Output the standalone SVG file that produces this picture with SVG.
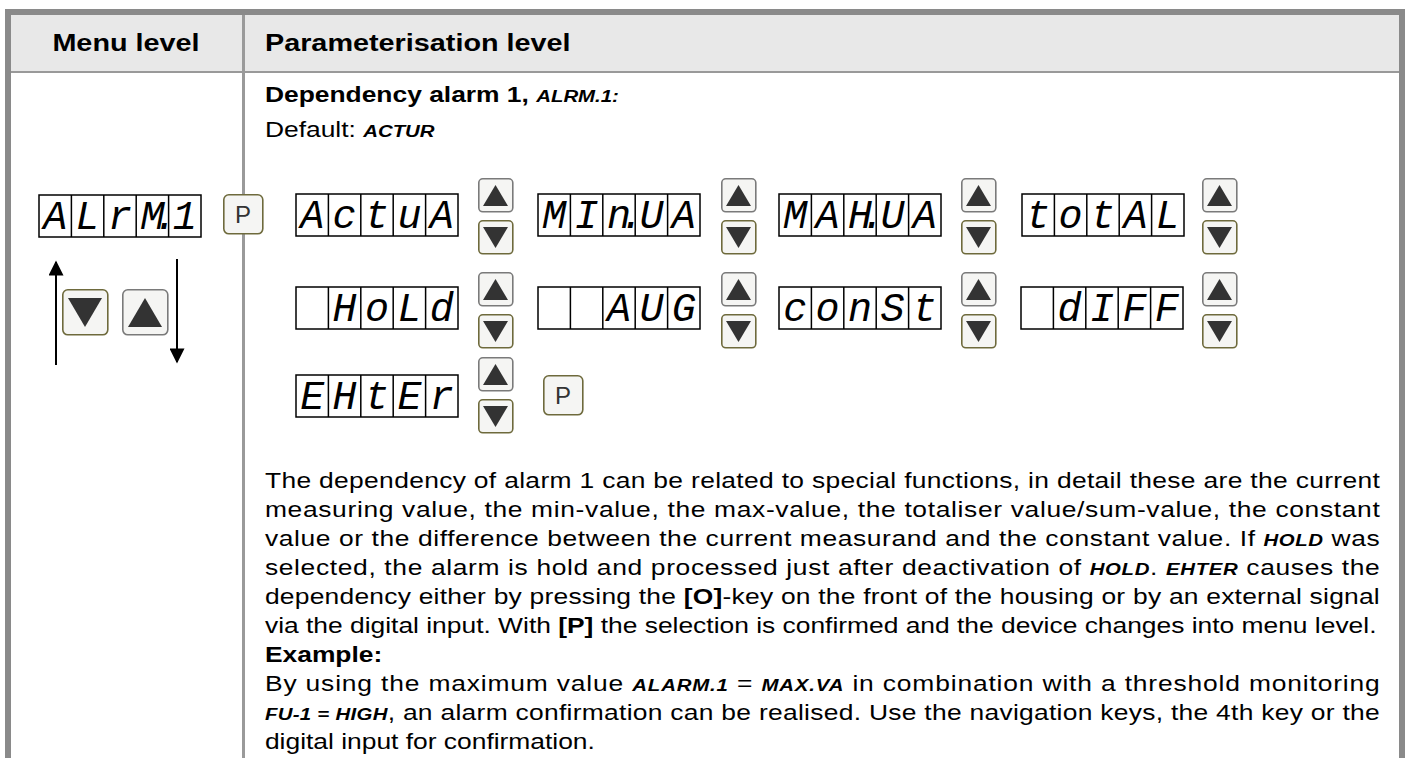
<svg xmlns="http://www.w3.org/2000/svg" xmlns:xlink="http://www.w3.org/1999/xlink" width="1406" height="758" viewBox="0 0 1406 758">
<style>
.hdr{font-family:"Liberation Sans",Arial,sans-serif;font-weight:bold;font-size:24px;fill:#000}
.t{font-family:"Liberation Sans",Arial,sans-serif;font-size:22px;fill:#000}
.b{font-weight:bold}
.d{font-family:"Liberation Sans Narrow","Liberation Sans",Arial,sans-serif;font-weight:bold;font-style:italic;font-size:17px}
.lcd{fill:#fff;stroke:#000;stroke-width:1.5}
.seg{font-family:"Liberation Mono","DejaVu Sans Mono",monospace;font-style:italic;font-size:40px;text-anchor:middle;fill:#000}
.segd{font-family:"Liberation Mono","DejaVu Sans Mono",monospace;font-style:italic;font-size:40px;letter-spacing:-11px;fill:#000}
.btn{fill:#f5f5f3;stroke-width:1.6}
.up{stroke:#7a7a7a}
.dn{stroke:#6e6a3c}
.tri{fill:#333}
.pk{font-family:"Liberation Sans",Arial,sans-serif;font-size:24px;fill:#333;text-anchor:middle}
.con{stroke:#000;stroke-width:2;fill:none}
</style>
<defs>
<g id="cells">
<rect x="0" y="0" width="162" height="42" class="lcd"/>
<path d="M32.4 0V42M64.8 0V42M97.2 0V42M129.6 0V42" stroke="#000" stroke-width="1.5"/>
</g>
<g id="bup"><rect x="0.8" y="0.8" width="34" height="33" rx="4" class="btn up"/><path d="M17.5 7L30 28H5Z" class="tri"/></g>
<g id="bdn"><rect x="0.8" y="0.8" width="34" height="33" rx="4" class="btn dn"/><path d="M5 7H30L17.5 28Z" class="tri"/></g>
<g id="pkey"><rect x="0.8" y="0.8" width="39" height="39" rx="5" class="btn dn"/><text x="20" y="29" class="pk">P</text></g>
<marker id="ah" viewBox="0 0 10 10" refX="9" refY="5" markerWidth="16" markerHeight="15" markerUnits="userSpaceOnUse" orient="auto"><path d="M0 0L10 5L0 10Z" fill="#000"/></marker>
</defs>

<g id="frame">
<rect x="11" y="15" width="1388" height="56" fill="#e8e8e8"/>
<rect x="5" y="9" width="1400" height="6" fill="#8a8a8a"/>
<rect x="5" y="9" width="6" height="749" fill="#8a8a8a"/>
<rect x="1399" y="9" width="6" height="749" fill="#8a8a8a"/>
<rect x="11" y="71" width="1388" height="2" fill="#999"/>
<rect x="242" y="15" width="3" height="743" fill="#9a9a9a"/>
</g>

<g id="headers" transform="scale(1.2,1)">
<text x="105" y="51" class="hdr" text-anchor="middle">Menu level</text>
<text x="220.8" y="51" class="hdr">Parameterisation level</text>
</g>

<g id="menu-display" transform="translate(39,195)">
<use xlink:href="#cells"/>
<text class="seg" x="16.2" y="34">A</text><text class="seg" x="48.6" y="34">L</text><text class="seg" x="81" y="34">r</text><text class="segd" x="101.4" y="34">M.</text><text class="seg" x="145.8" y="34">1</text>
</g>
<g id="menu-p" transform="translate(223,194)"><use xlink:href="#pkey"/></g>
<g id="menu-down" transform="translate(62,289)"><rect x="0.8" y="0.8" width="45" height="45" rx="5" class="btn dn"/><path d="M6 9H40L23 38Z" class="tri"/></g>
<g id="menu-up" transform="translate(122,289)"><rect x="0.8" y="0.8" width="45" height="45" rx="5" class="btn up"/><path d="M23 9L40 38H6Z" class="tri"/></g>

<g id="connectors">
<path d="M56 365V262" class="con" marker-end="url(#ah)"/>
<path d="M177 259V362" class="con" marker-end="url(#ah)"/>
</g>

<g id="texts-top" transform="scale(1.2,1)">
<text x="220.8" y="102" class="t b">Dependency alarm 1, <tspan class="d">ALRM.1:</tspan></text>
<text x="220.8" y="137" class="t">Default: <tspan class="d">ACTUR</tspan></text>
</g>

<g id="actua" transform="translate(296,194)"><use xlink:href="#cells"/>
<text class="seg" x="16.2" y="34">A</text><text class="seg" x="48.6" y="34">c</text><text class="seg" x="81" y="34">t</text><text class="seg" x="113.4" y="34">u</text><text class="seg" x="145.8" y="34">A</text></g>
<g id="minua" transform="translate(538,194)"><use xlink:href="#cells"/>
<text class="seg" x="16.2" y="34">M</text><text class="seg" x="48.6" y="34">I</text><text class="segd" x="69" y="34">n.</text><text class="seg" x="113.4" y="34">U</text><text class="seg" x="145.8" y="34">A</text></g>
<g id="mahua" transform="translate(779,194)"><use xlink:href="#cells"/>
<text class="seg" x="16.2" y="34">M</text><text class="seg" x="48.6" y="34">A</text><text class="segd" x="69" y="34">H.</text><text class="seg" x="113.4" y="34">U</text><text class="seg" x="145.8" y="34">A</text></g>
<g id="total" transform="translate(1022,194)"><use xlink:href="#cells"/>
<text class="seg" x="16.2" y="34">t</text><text class="seg" x="48.6" y="34">o</text><text class="seg" x="81" y="34">t</text><text class="seg" x="113.4" y="34">A</text><text class="seg" x="145.8" y="34">L</text></g>

<g id="hold" transform="translate(296,287)"><use xlink:href="#cells"/>
<text class="seg" x="48.6" y="34">H</text><text class="seg" x="81" y="34">o</text><text class="seg" x="113.4" y="34">L</text><text class="seg" x="145.8" y="34">d</text></g>
<g id="aug" transform="translate(538,287)"><use xlink:href="#cells"/>
<text class="seg" x="81" y="34">A</text><text class="seg" x="113.4" y="34">U</text><text class="seg" x="145.8" y="34">G</text></g>
<g id="const" transform="translate(779,287)"><use xlink:href="#cells"/>
<text class="seg" x="16.2" y="34">c</text><text class="seg" x="48.6" y="34">o</text><text class="seg" x="81" y="34">n</text><text class="seg" x="113.4" y="34">S</text><text class="seg" x="145.8" y="34">t</text></g>
<g id="diff" transform="translate(1021,287)"><use xlink:href="#cells"/>
<text class="seg" x="48.6" y="34">d</text><text class="seg" x="81" y="34">I</text><text class="seg" x="113.4" y="34">F</text><text class="seg" x="145.8" y="34">F</text></g>

<g id="ehter" transform="translate(296,375)"><use xlink:href="#cells"/>
<text class="seg" x="16.2" y="34">E</text><text class="seg" x="48.6" y="34">H</text><text class="seg" x="81" y="34">t</text><text class="seg" x="113.4" y="34">E</text><text class="seg" x="145.8" y="34">r</text></g>

<g id="nav-keys">
<use xlink:href="#bup" x="478" y="178"/><use xlink:href="#bdn" x="478" y="220"/>
<use xlink:href="#bup" x="721" y="178"/><use xlink:href="#bdn" x="721" y="220"/>
<use xlink:href="#bup" x="961" y="178"/><use xlink:href="#bdn" x="961" y="220"/>
<use xlink:href="#bup" x="1202" y="178"/><use xlink:href="#bdn" x="1202" y="220"/>
<use xlink:href="#bup" x="478" y="272"/><use xlink:href="#bdn" x="478" y="314"/>
<use xlink:href="#bup" x="721" y="272"/><use xlink:href="#bdn" x="721" y="314"/>
<use xlink:href="#bup" x="961" y="272"/><use xlink:href="#bdn" x="961" y="314"/>
<use xlink:href="#bup" x="1202" y="272"/><use xlink:href="#bdn" x="1202" y="314"/>
<use xlink:href="#bup" x="478" y="357"/><use xlink:href="#bdn" x="478" y="399"/>
</g>
<g id="param-p" transform="translate(543,375)"><use xlink:href="#pkey"/></g>

<g id="description" transform="scale(1.2,1)">
<text x="220.8" y="488" class="t" textLength="929" lengthAdjust="spacing">The dependency of alarm 1 can be related to special functions, in detail these are the current</text>
<text x="220.8" y="517" class="t" textLength="929" lengthAdjust="spacing">measuring value, the min-value, the max-value, the totaliser value/sum-value, the constant</text>
<text x="220.8" y="546" class="t" textLength="929" lengthAdjust="spacing">value or the difference between the current measurand and the constant value. If <tspan class="d">HOLD</tspan> was</text>
<text x="220.8" y="575" class="t" textLength="929" lengthAdjust="spacing">selected, the alarm is hold and processed just after deactivation of <tspan class="d">HOLD</tspan>. <tspan class="d">EHTER</tspan> causes the</text>
<text x="220.8" y="604" class="t" textLength="929" lengthAdjust="spacing">dependency either by pressing the <tspan class="b">[O]</tspan>-key on the front of the housing or by an external signal</text>
<text x="220.8" y="633" class="t">via the digital input. With <tspan class="b">[P]</tspan> the selection is confirmed and the device changes into menu level.</text>
<text x="220.8" y="662" class="t b">Example:</text>
<text x="220.8" y="691" class="t" textLength="929" lengthAdjust="spacing">By using the maximum value <tspan class="d">ALARM.1</tspan> = <tspan class="d">MAX.VA</tspan> in combination with a threshold monitoring</text>
<text x="220.8" y="720" class="t" textLength="929" lengthAdjust="spacing"><tspan class="d">FU-1 = HIGH</tspan>, an alarm confirmation can be realised. Use the navigation keys, the 4th key or the</text>
<text x="220.8" y="749" class="t">digital input for confirmation.</text>
</g>
</svg>
